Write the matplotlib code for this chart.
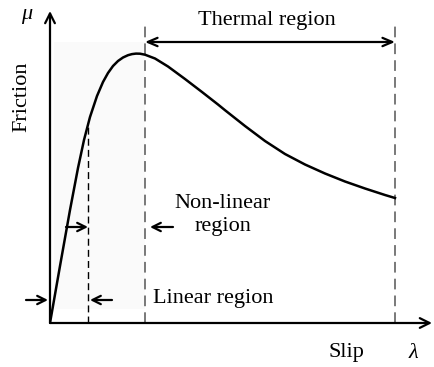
import matplotlib.pyplot as plt
from matplotlib.patches import Rectangle

# friction-slip curve (slip, friction in arbitrary units)
slip = [0, 10, 20, 28, 34, 40, 47, 53, 58, 63, 68, 73, 78, 82, 86, 90, 95,
        105, 118, 135, 152, 168, 175, 195, 215, 235, 255, 275, 295, 315, 335, 345]
friction = [0, 57, 113, 155, 183, 206, 227, 241, 250, 257, 262, 265.5, 267.8, 268.9, 269.4, 269.3, 268.3,
            264.5, 256.5, 244, 231, 218.5, 212.8, 197, 182, 169, 158.5, 149.5, 141.5, 134.5, 128, 125]

# region boundaries on the slip axis
linear_end = 38
peak_slip = 95
thermal_end = 345

# axis extents
slip_max = 382
fric_max = 312

plt.rcParams['font.family'] = ['Liberation Serif', 'DejaVu Serif']

fig = plt.figure(figsize=(4.34, 3.67), dpi=100)
ax = fig.add_axes([50 / 434, 44 / 367, 382 / 434, 312 / 367])
ax.set_xlim(0, slip_max)
ax.set_ylim(0, fric_max)
ax.axis('off')

# faint shaded background of the first two regions
ax.add_patch(Rectangle((4, 14), peak_slip - 4, 267, facecolor='#fafafa', edgecolor='none', zorder=0))

# axes with arrow heads
arrow_kw = dict(arrowstyle='->,head_length=0.7,head_width=0.35', lw=1.6, color='black',
                shrinkA=0, shrinkB=0)
ax.annotate('', xy=(0, fric_max), xytext=(0, 0), arrowprops=arrow_kw, annotation_clip=False)
ax.annotate('', xy=(slip_max, 0), xytext=(0, 0), arrowprops=arrow_kw, annotation_clip=False)

# curve
ax.plot(slip, friction, color='black', lw=1.8, solid_joinstyle='round', zorder=3)

# dashed boundaries
ax.plot([linear_end, linear_end], [0, 196], color='black', lw=1.0, ls=(0, (5, 3)))
ax.plot([peak_slip, peak_slip], [0, 299], color='#555555', lw=1.1, ls=(0, (7, 4)))
ax.plot([thermal_end, thermal_end], [0, 299], color='#555555', lw=1.1, ls=(0, (7, 4)))

# thermal region double arrow
ax.annotate('', xy=(thermal_end, 281), xytext=(peak_slip, 281),
            arrowprops=dict(arrowstyle='<->,head_length=0.7,head_width=0.3', lw=1.6,
                            color='black', shrinkA=0, shrinkB=0))

small_arrow = dict(arrowstyle='->,head_length=0.6,head_width=0.3', lw=1.6, color='black',
                   shrinkA=0, shrinkB=0)
# non-linear region arrows
ax.annotate('', xy=(linear_end, 96), xytext=(16, 96), arrowprops=small_arrow)
ax.annotate('', xy=(100, 96), xytext=(123, 96), arrowprops=small_arrow)
# linear region arrows
ax.annotate('', xy=(-2, 23), xytext=(-24, 23), arrowprops=small_arrow, annotation_clip=False)
ax.annotate('', xy=(40, 23), xytext=(62, 23), arrowprops=small_arrow)

fs = 16
ax.text(217, 303, 'Thermal region', fontsize=fs, ha='center', va='center')
ax.text(173, 108, 'Non-linear\nregion', fontsize=fs, ha='center', va='center', linespacing=1.3)
ax.text(103, 25, 'Linear region', fontsize=fs, ha='left', va='center')
ax.text(-28, 226, 'Friction', fontsize=fs, rotation=90, ha='center', va='center')
ax.text(-23, 308, 'μ', fontsize=fs, fontstyle='italic', ha='center', va='center')
ax.text(296, -30, 'Slip', fontsize=fs, ha='center', va='center')
ax.text(363, -30, 'λ', fontsize=fs, fontstyle='italic', ha='center', va='center')

fig.savefig('out.png', dpi=100)
